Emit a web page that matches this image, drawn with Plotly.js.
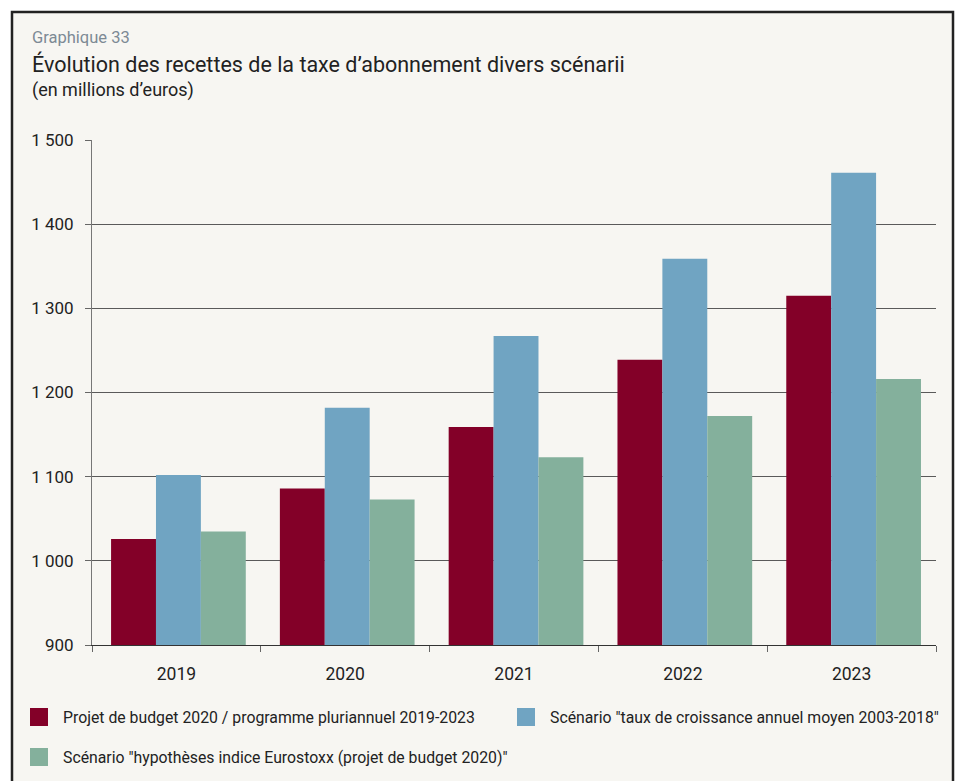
<!DOCTYPE html>
<html>
<head>
<meta charset="utf-8">
<script src="https://cdn.plot.ly/plotly-3.0.1.min.js"></script>
<style>html,body{margin:0;padding:0;background:#fff;}#chart{width:962px;height:781px;}</style>
</head>
<body>
<div id="chart"></div>
<script>
const years = ['2019', '2020', '2021', '2022', '2023'];
const budgetValues = [1026, 1086, 1159, 1239, 1315];
const croissanceValues = [1102, 1182, 1267, 1359, 1461];
const eurostoxxValues = [1035, 1073, 1123, 1172, 1216];
const seriesNames = [
  'Projet de budget 2020 / programme pluriannuel 2019-2023',
  'Scénario "taux de croissance annuel moyen 2003-2018"',
  'Scénario "hypothèses indice Eurostoxx (projet de budget 2020)"'
];
const yTicks = [900, 1000, 1100, 1200, 1300, 1400, 1500];
const colors = ['#830028', '#70a4c2', '#84b09c'];

const W = 962, H = 781, L = 92, R = 936, T = 140, B = 645;
const px = x => (x - L) / (R - L);
const py = y => (B - y) / (B - T);

const barWidth = 0.266;
const offsets = [-0.387, -0.121, 0.145];
const traces = [budgetValues, croissanceValues, eurostoxxValues].map((v, i) => ({
  type: 'bar', x: years, y: v, name: seriesNames[i],
  width: barWidth, offset: offsets[i],
  marker: {color: colors[i], line: {width: 0}}, showlegend: false,
  hovertemplate: '%{x}: %{y}<extra></extra>'
}));

const font = 'Roboto, "Noto Sans", sans-serif';
const legendPos = [[30, 717], [517, 717], [30, 757]];
const shapes = [
  {type: 'rect', xref: 'paper', yref: 'paper', layer: 'below',
   x0: px(12), x1: px(953), y0: py(12), y1: py(800),
   fillcolor: '#f7f6f2', line: {color: '#222', width: 2.5}}
];
const annotations = [
  {text: 'Graphique 33', x: px(30), y: py(37), font: {size: 16.5, color: '#7d8a95', family: font}},
  {text: 'Évolution des recettes de la taxe d’abonnement divers scénarii', x: px(30), y: py(64), font: {size: 21.5, color: '#222', family: font}},
  {text: '(en millions d’euros)', x: px(30), y: py(90), font: {size: 18, color: '#222', family: font}}
];
legendPos.forEach((p, i) => {
  shapes.push({type: 'rect', xref: 'paper', yref: 'paper',
    x0: px(p[0]), x1: px(p[0] + 18), y0: py(p[1] - 9), y1: py(p[1] + 9),
    fillcolor: colors[i], line: {width: 0}});
  annotations.push({text: seriesNames[i], x: px(p[0] + 31), y: py(p[1]),
    font: {size: 15.8, color: '#222', family: font}});
});
annotations.forEach(a => Object.assign(a, {xref: 'paper', yref: 'paper', xanchor: 'left', yanchor: 'middle', showarrow: false}));

const layout = {
  width: W, height: H,
  margin: {l: L, r: W - R, t: T, b: H - B, pad: 0},
  paper_bgcolor: '#ffffff', plot_bgcolor: 'rgba(0,0,0,0)',
  separators: ', ',
  font: {family: font, color: '#222'},
  barmode: 'group', bargap: 0.2, bargroupgap: 0,
  showlegend: false,
  xaxis: {
    type: 'category', tickson: 'boundaries', ticks: 'outside', ticklen: 6, tickcolor: '#666',
    showline: true, linecolor: '#333', linewidth: 1, showgrid: false,
    tickfont: {size: 17.5, color: '#222'}, ticklabelstandoff: 13, fixedrange: true
  },
  yaxis: {
    range: [900, 1500], tickvals: yTicks, separatethousands: true, tickformat: ',d',
    ticks: 'outside', ticklen: 6, tickcolor: '#666',
    showline: true, linecolor: '#777', linewidth: 1,
    showgrid: true, gridcolor: '#5a5a5a', gridwidth: 1, zeroline: false,
    tickfont: {size: 17, color: '#222'}, ticklabelstandoff: 8, fixedrange: true
  },
  shapes: shapes, annotations: annotations
};
Plotly.newPlot('chart', traces, layout, {displayModeBar: false, staticPlot: true});
</script>
</body>
</html>
